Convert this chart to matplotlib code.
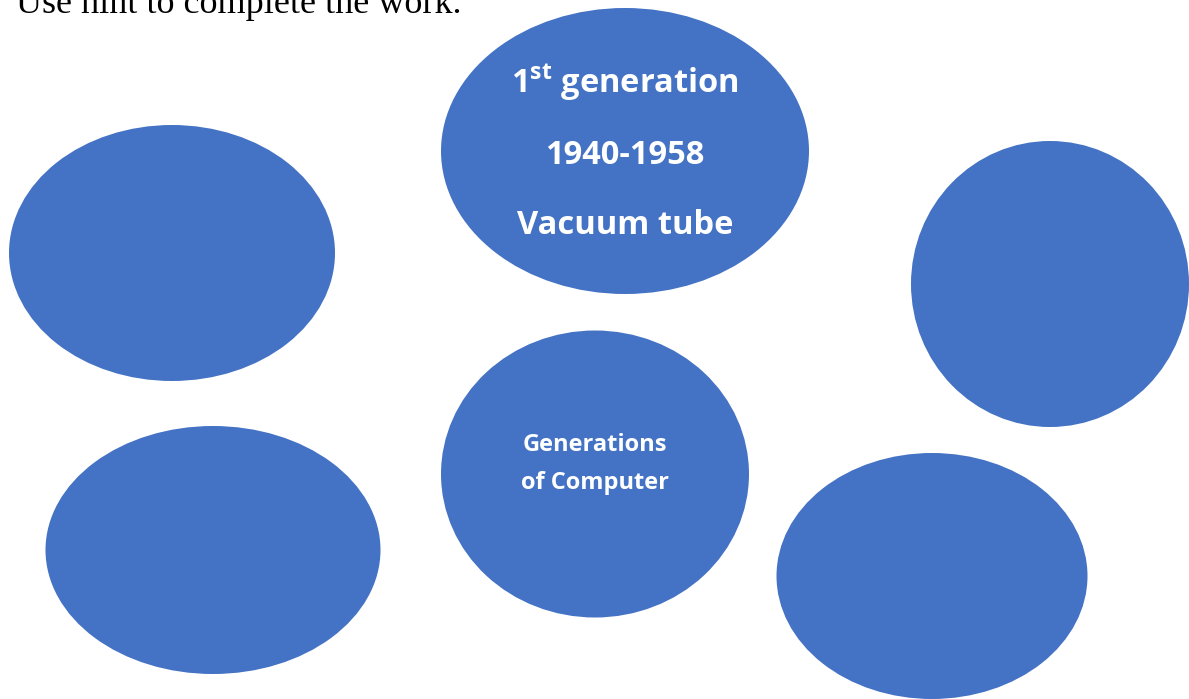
import matplotlib.pyplot as plt
from matplotlib.patches import Ellipse

# bubble layout in pixel units: centre x, centre y, width, height
bubbles = [(625, 151, 368, 286),
           (172, 253, 326, 256),
           (1050, 284, 278, 286),
           (595, 474, 308, 287),
           (213, 550, 335, 248),
           (932, 576, 311, 246)]
top_lines = ["1$^{\\mathregular{st}}$ generation", "1940-1958", "Vacuum tube"]
top_y = [83, 155, 225]
mid_lines = ["Generations", "of Computer"]
mid_y = [445, 483]
header = "Use hint to complete the work."

W, H = 1189, 699
fig = plt.figure(figsize=(W/100, H/100), dpi=100)
ax = fig.add_axes([0, 0, 1, 1])
ax.set_xlim(0, W)
ax.set_ylim(H, 0)
ax.axis('off')

blue = '#4472C4'
for cx, cy, w, h in bubbles:
    ax.add_patch(Ellipse((cx, cy), w, h, facecolor=blue, edgecolor='none'))

# header sentence, clipped at the top of the page
ax.text(16, 13, header, fontsize=26, family='Liberation Serif',
        color='black', va='baseline', ha='left')

for s, y in zip(top_lines, top_y):
    ax.text(625, y, s, fontsize=23.5, family='Open Sans', fontweight='bold',
            color='white', ha='center', va='center')
for s, y in zip(mid_lines, mid_y):
    ax.text(595, y, s, fontsize=17, family='Open Sans', fontweight='bold',
            color='white', ha='center', va='center')

plt.savefig('out.png', dpi=100)
